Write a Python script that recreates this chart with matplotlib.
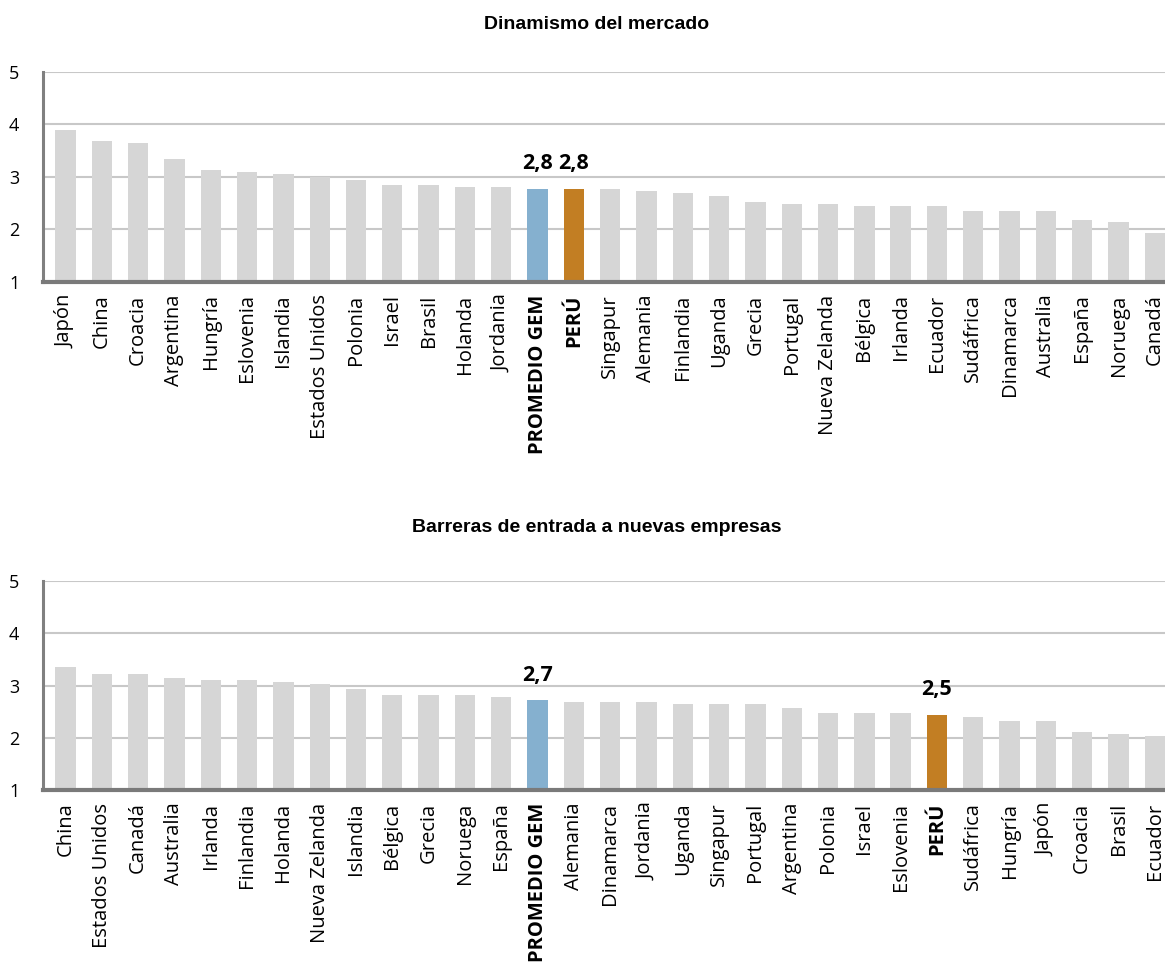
import matplotlib
matplotlib.use("Agg")
import matplotlib.pyplot as plt

# Dinamismo del mercado
paises_din = ["Japón", "China", "Croacia", "Argentina", "Hungría", "Eslovenia",
              "Islandia", "Estados Unidos", "Polonia", "Israel", "Brasil", "Holanda",
              "Jordania", "PROMEDIO GEM", "PERÚ", "Singapur", "Alemania", "Finlandia",
              "Uganda", "Grecia", "Portugal", "Nueva Zelanda", "Bélgica", "Irlanda",
              "Ecuador", "Sudáfrica", "Dinamarca", "Australia", "España", "Noruega",
              "Canadá"]
valores_din = [3.89, 3.68, 3.64, 3.34, 3.13, 3.09, 3.05, 2.99, 2.94, 2.84, 2.84, 2.80,
               2.80, 2.77, 2.77, 2.77, 2.73, 2.69, 2.63, 2.52, 2.48, 2.48, 2.44, 2.44,
               2.44, 2.35, 2.35, 2.35, 2.18, 2.14, 1.93]

# Barreras de entrada a nuevas empresas
paises_bar = ["China", "Estados Unidos", "Canadá", "Australia", "Irlanda", "Finlandia",
              "Holanda", "Nueva Zelanda", "Islandia", "Bélgica", "Grecia", "Noruega",
              "España", "PROMEDIO GEM", "Alemania", "Dinamarca", "Jordania", "Uganda",
              "Singapur", "Portugal", "Argentina", "Polonia", "Israel", "Eslovenia",
              "PERÚ", "Sudáfrica", "Hungría", "Japón", "Croacia", "Brasil", "Ecuador"]
valores_bar = [3.35, 3.22, 3.22, 3.15, 3.11, 3.11, 3.07, 3.03, 2.93, 2.82, 2.82, 2.82,
               2.78, 2.72, 2.69, 2.69, 2.69, 2.65, 2.65, 2.65, 2.57, 2.48, 2.48, 2.48,
               2.44, 2.40, 2.32, 2.32, 2.11, 2.07, 2.03]

etiquetas = {"PROMEDIO GEM": "2,8", "PERÚ": "2,8"}
etiquetas_bar = {"PROMEDIO GEM": "2,7", "PERÚ": "2,5"}

GRIS = "#d6d6d6"
AZUL = "#85b0cf"
NARANJA = "#c27e23"
FUENTE = "Open Sans"


def dibujar(ax, paises, valores, rotulos):
    x = list(range(len(paises)))
    colores = []
    for p in paises:
        if p == "PROMEDIO GEM":
            colores.append(AZUL)
        elif p == "PERÚ":
            colores.append(NARANJA)
        else:
            colores.append(GRIS)
    ax.bar(x, [v - 1 for v in valores], bottom=1, width=0.56, color=colores, zorder=2)
    for i, p in enumerate(paises):
        if p in rotulos:
            ax.annotate(rotulos[p], (i, valores[i]), xytext=(0, 14),
                        textcoords="offset points", ha="center", va="baseline",
                        fontsize=15.5, fontweight="bold", family=FUENTE)
    ax.set_ylim(1, 5)
    ax.set_xlim(-0.62, len(paises) - 0.72)
    ax.set_yticks([1, 2, 3, 4, 5])
    ax.set_yticklabels(["1", "2", "3", "4", "5"], family=FUENTE, fontsize=13)
    ax.set_xticks(x)
    ax.set_xticklabels(paises, rotation=90, family=FUENTE, fontsize=14.5)
    for lbl in ax.get_xticklabels():
        if lbl.get_text() in ("PROMEDIO GEM", "PERÚ"):
            lbl.set_fontweight("bold")
    ax.tick_params(axis="both", length=0)
    ax.tick_params(axis="y", pad=17)
    ax.tick_params(axis="x", pad=9)
    ax.yaxis.grid(True, color="#c8c8c8", linewidth=1.5, zorder=0)
    ax.set_axisbelow(True)
    for s in ("top", "right"):
        ax.spines[s].set_visible(False)
    ax.spines["left"].set_color("#808080")
    ax.spines["left"].set_linewidth(2.2)
    ax.spines["bottom"].set_color("#7a7a7a")
    ax.spines["bottom"].set_linewidth(3)


fig = plt.figure(figsize=(11.65, 9.72), dpi=100)
ax1 = fig.add_axes([0.0369, 0.7099, 0.9631, 0.2164])
ax2 = fig.add_axes([0.0369, 0.1872, 0.9631, 0.215])

dibujar(ax1, paises_din, valores_din, etiquetas)
dibujar(ax2, paises_bar, valores_bar, etiquetas_bar)

fig.text(597 / 1165, 1 - 24.5 / 972, "Dinamismo del mercado", ha="center", va="center",
         fontsize=14, fontweight="bold", family="Liberation Sans")
fig.text(597 / 1165, 1 - 528 / 972, "Barreras de entrada a nuevas empresas", ha="center",
         va="center", fontsize=14, fontweight="bold", family="Liberation Sans")

fig.savefig("out.png", dpi=100)
